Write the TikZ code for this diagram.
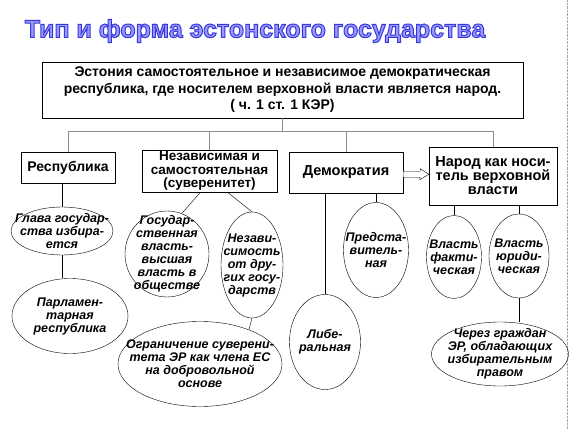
\documentclass[tikz,border=0pt]{standalone}
\usepackage{fontspec}
\setmainfont{Liberation Sans}
\newfontfamily\titlefont{Liberation Sans Bold}[FakeBold=4]
\usetikzlibrary{positioning, calc, shapes.geometric}

\begin{document}
\begin{tikzpicture}[
    x=1pt, y=-1pt,
    box/.style={draw, thin, fill=white, align=center, inner sep=1pt,
        font=\bfseries\fontsize{14}{14}\selectfont},
    oval/.style={ellipse, draw, thin, align=center, inner sep=-20pt,
        font=\bfseries\itshape\fontsize{12.5}{13}\selectfont},
    link/.style={thin, black},
    bus/.style={thin, black!45},
    heading/.style={font=\titlefont\fontsize{25}{27}\selectfont},
]
\useasboundingbox (0,0) rectangle (572,430);
\draw[black!35, densely dotted] (567,0) -- (567,430);

% Title
\node[heading] (title) at (255,31)
    {\special{pdf:bcolor [0.6 0.6 1] [0.22 0.22 0.85]}Тип и форма эстонского государства\special{pdf:ecolor}};

% Top statement
\node[box, minimum width=481, minimum height=56,
    font=\bfseries\fontsize{14}{16.5}\selectfont] (top) at (282.5,90)
    {Эстония самостоятельное и независимое демократическая\\
     республика, где носителем верховной власти является народ.\\
     ( ч. 1 ст. 1 КЭР)};

% Second row
\node[box, minimum width=94, minimum height=31] (rep) at (68,167.5) {Республика};
\node[box, minimum width=135, minimum height=42,
    font=\bfseries\fontsize{13.5}{13.5}\selectfont] (nez) at (209.5,171)
    {Независимая и\\самостоятельная\\(суверенитет)};
\node[box, minimum width=114, minimum height=41,
    font=\bfseries\fontsize{14.5}{14}\selectfont] (dem) at (346,172.5) {Демократия};
\node[box, minimum width=128, minimum height=58,
    font=\bfseries\fontsize{14.5}{14}\selectfont] (narod) at (493,176)
    {Народ как носи-\\тель верховной\\власти};

% Ovals
\node[oval, minimum width=102, minimum height=48] (glava) at (62,231) {Глава государ-\\ства избира-\\ется};
\node[oval, minimum width=116, minimum height=75] (parl) at (70,316) {Парламен-\\тарная\\республика};
\node[oval, minimum width=84, minimum height=86] (gos) at (167,254)
    {Государ-\\ственная\\власть-\\высшая\\власть в\\обществе};
\node[oval, minimum width=62, minimum height=106] (nezav) at (252,265)
    {Незави-\\симость\\от дру-\\гих госу-\\дарств};
\node[oval, minimum width=164, minimum height=85] (ogr) at (200,364)
    {Ограничение суверени-\\тета ЭР как члена ЕС\\на добровольной\\основе};
\node[oval, minimum width=71, minimum height=95] (lib) at (325,342) {Либе-\\ральная};
\node[oval, minimum width=65, minimum height=95] (pred) at (376,250) {Предста-\\витель-\\ная};
\node[oval, minimum width=55, minimum height=83] (fakt) at (454,257) {Власть\\факти-\\ческая};
\node[oval, minimum width=60, minimum height=84] (yur) at (519,256) {Власть\\юриди-\\ческая};
\node[oval, minimum width=137, minimum height=64] (cherez) at (500,354)
    {Через граждан\\ЭР, обладающих\\избирательным\\правом};

% Bus from the top box
\coordinate (busy) at (0,131);
\draw[bus] (top.south) -- (top.south |- busy);
\draw[bus] (rep.north |- busy) -- (narod.north |- busy);
\foreach \n in {rep,nez,dem,narod}
    \draw[bus] (\n.north) -- (\n.north |- busy);

% Links
\draw[link] (glava.north |- rep.south) -- (glava.north);
\draw[link] (glava.south) -- (glava.south |- parl.north);
\draw[link] ([xshift=-9pt]nez.south) -- (gos.70);
\draw[link] ([xshift=18pt]nez.south) -- (nezav.north);
\draw[link] (nezav.south) -- (ogr.35);
\draw[link] (lib.north |- dem.south) -- (lib.north);
\draw[link] (pred.north |- dem.south) -- (pred.north);
\draw[link] (fakt.north |- narod.south) -- (fakt.north);
\draw[link] (yur.north |- narod.south) -- (yur.north);
\draw[link] (yur.south) -- (yur.south |- cherez.north);

% Hollow arrow
\coordinate (mid) at ($(dem.east)!0.5!(narod.west)$);
\draw[link, fill=white] ($(dem.east |- mid)+(0,-3)$) -- ++(17,0) -- ++(0,-2.5)
    -- (narod.west |- mid) -- ++(-9,5.5) -- ++(0,-2.5)
    -- ($(dem.east |- mid)+(0,3)$) -- cycle;
\end{tikzpicture}
\end{document}
